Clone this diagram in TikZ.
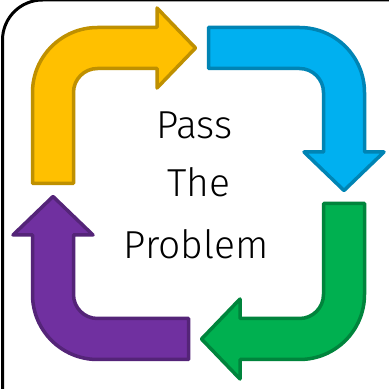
\documentclass[tikz,border=0pt]{standalone}
\usepackage{fontspec}
\setmainfont{Fira Sans}[UprightFont=* Light]
\definecolor{yfill}{HTML}{FFC000}
\definecolor{ydraw}{HTML}{BF9000}
\definecolor{bfill}{HTML}{00B0F0}
\definecolor{bdraw}{HTML}{0084B4}
\definecolor{gfill}{HTML}{00B050}
\definecolor{gdraw}{HTML}{00843C}
\definecolor{pfill}{HTML}{7030A0}
\definecolor{pdraw}{HTML}{542478}
\tikzset{
  bentarrow/.style={line width=3.5pt, line join=round},
  label/.style={font=\fontsize{39}{39}\selectfont, anchor=base, inner sep=0pt}
}
\newcommand{\bentshape}{%
  (-166,10) -- (-166,101) arc[start angle=180,end angle=90,radius=65]
  -- (-41.5,166) -- (-41.5,185.5) -- (-3,145.5) -- (-41.5,105.5)
  -- (-41.5,125) -- (-101,125) arc[start angle=90,end angle=180,radius=24]
  -- (-125,10) -- cycle}
\begin{document}
\begin{tikzpicture}[x=1pt,y=1pt]
\useasboundingbox (0,0) rectangle (389,389);
\clip (0,0) rectangle (389,389);
\fill[white] (0,0) rectangle (389,389);
\draw[line width=3pt] (2.5,-5) -- (2.5,349) arc[start angle=180,end angle=90,radius=40] -- (420,389);
\coordinate (C) at (198.5,195.5);
\begin{scope}[shift={(C)}]
  \draw[bentarrow, fill=yfill, draw=ydraw] \bentshape;
  \draw[bentarrow, fill=bfill, draw=bdraw, rotate=-90] \bentshape;
  \draw[bentarrow, fill=gfill, draw=gdraw, rotate=-180] \bentshape;
  \draw[bentarrow, fill=pfill, draw=pdraw, rotate=-270] \bentshape;
\end{scope}
\node[label] (pass) at (194.5,250) {Pass};
\node[label] (the) at (199,192) {The};
\node[label] (problem) at (196,130) {Problem};
\end{tikzpicture}
\end{document}
